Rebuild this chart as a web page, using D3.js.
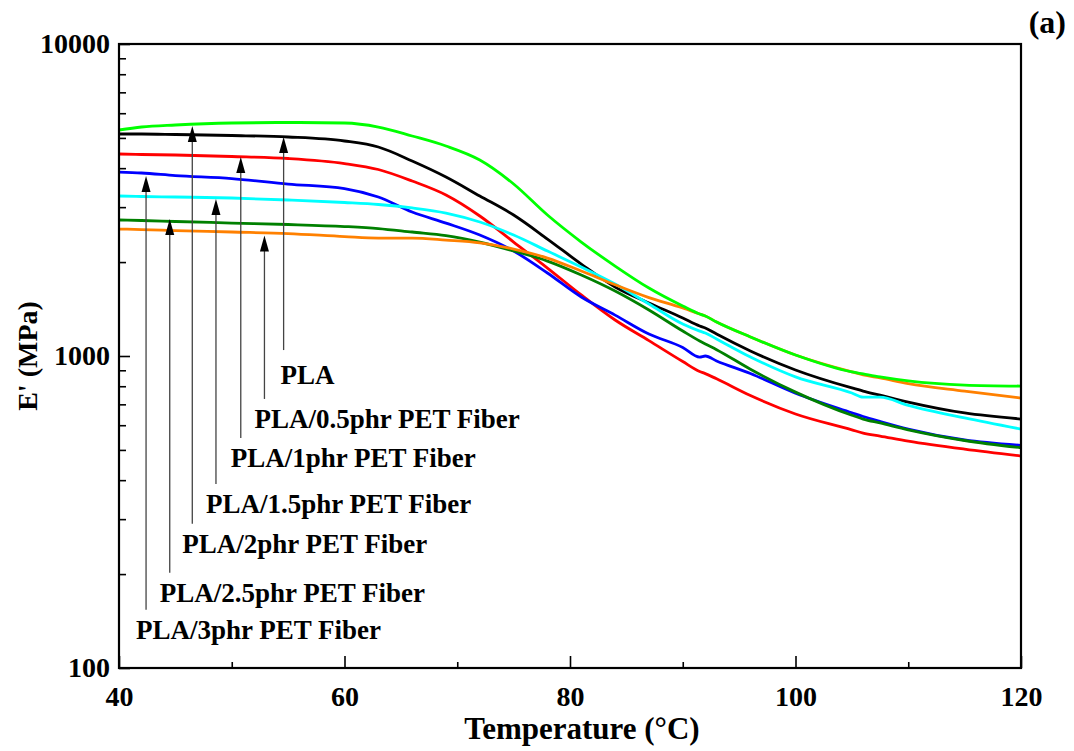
<!DOCTYPE html>
<html>
<head>
<meta charset="utf-8">
<script src="https://cdn.jsdelivr.net/npm/d3@7"></script>
<style>
body { margin: 0; background: #fff; }
text { font-family: "Liberation Serif", "Times New Roman", serif; font-weight: bold; fill: #000; }
</style>
</head>
<body>
<div id="chart"></div>
<script>
// temperature samples (°C), shared by every series
var temps = [40, 42, 45, 50, 55, 60, 63, 66, 69, 72, 75, 78, 81, 84, 87, 90, 91.5, 92, 93, 96, 100, 105, 106, 107.5, 110, 115, 120];

// storage modulus E' (MPa)
var pla    = [5147, 5147, 5128, 5090, 5034, 4888, 4675, 4217, 3747, 3257, 2830, 2371, 1971, 1664, 1479, 1324, 1248, 1230, 1176, 1038, 902, 790, 772, 749, 712, 657, 628];
var pet05  = [2552, 2543, 2524, 2497, 2469, 2414, 2388, 2388, 2353, 2306, 2202, 2060, 1872, 1692, 1539, 1425, 1363, 1343, 1285, 1151, 1007, 889, 870, 851, 816, 772, 733];
var pet1   = [4440, 4424, 4408, 4360, 4295, 4139, 3960, 3637, 3281, 2810, 2319, 1914, 1569, 1304, 1120, 960, 892, 878, 845, 747, 652, 580, 566, 554, 534, 503, 478];
var pet15  = [3257, 3245, 3233, 3209, 3162, 3104, 3059, 2982, 2872, 2688, 2442, 2170, 1928, 1701, 1468, 1266, 1202, 1185, 1134, 993, 857, 761, 738, 738, 695, 633, 583];
var pet2   = [5301, 5419, 5500, 5582, 5603, 5582, 5419, 5072, 4710, 4247, 3558, 2830, 2319, 1942, 1651, 1446, 1363, 1343, 1285, 1151, 1007, 889, 876, 857, 832, 807, 801];
var pet25  = [2728, 2718, 2698, 2668, 2639, 2600, 2562, 2497, 2433, 2319, 2170, 2015, 1818, 1615, 1404, 1202, 1117, 1093, 1048, 907, 766, 646, 628, 610, 580, 536, 508];
var pet3   = [3887, 3859, 3788, 3705, 3558, 3442, 3233, 2893, 2667, 2442, 2170, 1845, 1545, 1352, 1176, 1065, 992, 1000, 964, 879, 760, 658, 640, 617, 583, 538, 517];

// annotation labels, arrow temperature, arrow tip modulus, label baseline modulus
var annoLabels = ['PLA', 'PLA/0.5phr PET Fiber', 'PLA/1phr PET Fiber', 'PLA/1.5phr PET Fiber', 'PLA/2phr PET Fiber', 'PLA/2.5phr PET Fiber', 'PLA/3phr PET Fiber'];
var annoT      = [54.6, 52.9, 50.8, 48.6, 46.5, 44.5, 42.4];
var annoTipE   = [5034, 2433, 4344, 3185, 5461, 2748, 3775];
var annoLabelE = [813, 588, 441, 314, 234, 163, 124];

var xTicks = [40, 60, 80, 100, 120];
var xMinor = [50, 70, 90, 110];
var yTicks = [100, 1000, 10000];
var yMinor = [200, 300, 400, 500, 600, 700, 800, 900, 2000, 3000, 4000, 5000, 6000, 7000, 8000, 9000];

var series = [
    { name: 'pla', values: pla, color: '#000000' },
    { name: 'pet1', values: pet1, color: '#ff0000' },
    { name: 'pet3', values: pet3, color: '#0000ff' },
    { name: 'pet15', values: pet15, color: '#00ffff' },
    { name: 'pet25', values: pet25, color: '#008000' },
    { name: 'pet05', values: pet05, color: '#ff8000' },
    { name: 'pet2', values: pet2, color: '#00ff00' }
];

var svgWidth = 1074;
var svgHeight = 751;
var margin = { top: 44, right: 53, bottom: 83, left: 119 };
var width = svgWidth - margin.left - margin.right;
var height = svgHeight - margin.top - margin.bottom;

var svg = d3.select('#chart').append('svg')
    .attr('width', svgWidth)
    .attr('height', svgHeight);

var chartGroup = svg.append('g')
    .attr('transform', `translate(${margin.left}, ${margin.top})`);

var xScale = d3.scaleLinear().domain([40, 120]).range([0, width]);
var yScale = d3.scaleLog().domain([100, 10000]).range([height, 0]);

// minor ticks (inward)
chartGroup.append('g')
    .attr('transform', `translate(0, ${height})`)
    .call(d3.axisBottom(xScale).tickValues(xMinor).tickSize(-6).tickSizeOuter(0).tickFormat(''))
    .call(g => g.select('.domain').remove());
chartGroup.append('g')
    .call(d3.axisLeft(yScale).tickValues(yMinor).tickSize(-7).tickSizeOuter(0).tickFormat(''))
    .call(g => g.select('.domain').remove());

// major ticks + labels
var xAxis = chartGroup.append('g')
    .attr('transform', `translate(0, ${height})`)
    .call(d3.axisBottom(xScale).tickValues(xTicks).tickSize(-12).tickSizeOuter(0).tickPadding(18).tickFormat(d3.format('d')));
xAxis.select('.domain').remove();

var yAxis = chartGroup.append('g')
    .call(d3.axisLeft(yScale).tickValues(yTicks).tickSize(-11).tickSizeOuter(0).tickPadding(9).tickFormat(d3.format('d')));
yAxis.select('.domain').remove();

chartGroup.selectAll('.tick line').attr('stroke', '#000').attr('stroke-width', 1.6);
chartGroup.selectAll('.tick text')
    .style('font-size', '28px')
    .style('font-family', '"Liberation Serif", serif')
    .style('font-weight', 'bold');

// curves
var line = d3.line()
    .x((d, i) => xScale(temps[i]))
    .y(d => yScale(d))
    .curve(d3.curveMonotoneX);

chartGroup.selectAll('.curve')
    .data(series)
    .enter()
    .append('path')
    .classed('curve', true)
    .attr('d', d => line(d.values))
    .attr('fill', 'none')
    .attr('stroke', d => d.color)
    .attr('stroke-width', 2.8)
    .attr('stroke-linejoin', 'round');

// annotation arrows
var annos = annoLabels.map((label, i) => ({
    label: label, t: annoT[i], tip: annoTipE[i], base: annoLabelE[i]
}));

var annoGroup = chartGroup.selectAll('.anno')
    .data(annos)
    .enter()
    .append('g')
    .classed('anno', true);

annoGroup.append('line')
    .attr('x1', d => xScale(d.t))
    .attr('x2', d => xScale(d.t))
    .attr('y1', (d, i) => yScale(d.base) - (i === 0 ? 34 : 29))
    .attr('y2', d => yScale(d.tip) + 14)
    .attr('stroke', '#444')
    .attr('stroke-width', 1.3);

annoGroup.append('path')
    .attr('d', d => {
        var x = xScale(d.t), y = yScale(d.tip);
        return `M${x},${y} L${x - 4.5},${y + 16} L${x + 4.5},${y + 16} Z`;
    })
    .attr('fill', '#000');

annoGroup.append('text')
    .attr('x', (d, i) => xScale(d.t) - (i === 0 ? 3 : 10))
    .attr('y', d => yScale(d.base))
    .style('font-size', '27px')
    .text(d => d.label);

// frame
chartGroup.append('rect')
    .attr('width', width)
    .attr('height', height)
    .attr('fill', 'none')
    .attr('stroke', '#000')
    .attr('stroke-width', 2.2);

// axis titles
svg.append('text')
    .attr('x', 582)
    .attr('y', 739)
    .attr('text-anchor', 'middle')
    .style('font-size', '31px')
    .text('Temperature (°C)');

svg.append('text')
    .attr('transform', `translate(37, ${margin.top + height / 2}) rotate(-90)`)
    .attr('text-anchor', 'middle')
    .style('font-size', '28px')
    .text("E' (MPa)");

svg.append('text')
    .attr('x', 1066)
    .attr('y', 33)
    .attr('text-anchor', 'end')
    .style('font-size', '32px')
    .text('(a)');
</script>
</body>
</html>
